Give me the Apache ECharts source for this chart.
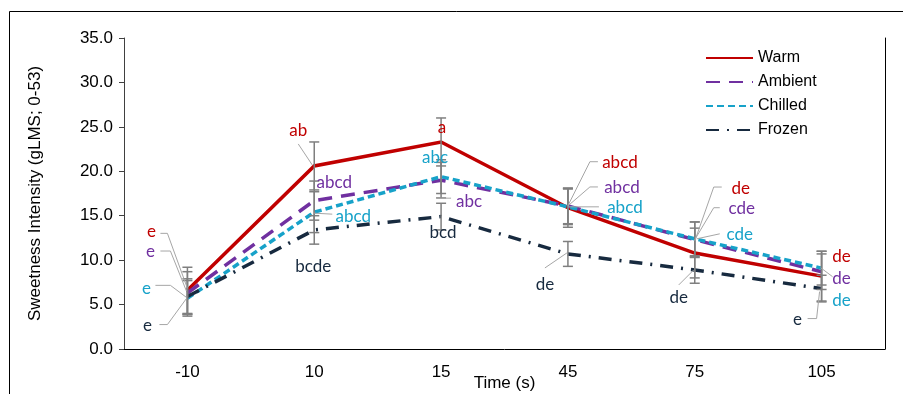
<!DOCTYPE html>
<html><head><meta charset="utf-8">
<script src="https://cdn.jsdelivr.net/npm/echarts@6/dist/echarts.min.js"></script>
<style>html,body{margin:0;padding:0;background:#fff}#c{width:903px;height:394px}</style>
</head><body><div id="c"></div>
<script>
// ---- data ----
const categories = ['-10', '10', '15', '45', '75', '105'];
const seriesNames = ['Warm', 'Ambient', 'Chilled', 'Frozen'];
const warm    = [6.6, 20.6, 23.3, 15.9, 10.8, 8.2];
const ambient = [6.3, 16.7, 19.0, 16.1, 12.3, 8.7];
const chilled = [5.7, 15.4, 19.4, 16.0, 12.4, 9.1];
const frozen  = [5.9, 13.4, 14.9, 10.7, 8.9, 6.8];
const warmErr    = [2.6, 2.7, 2.7, 2.2, 2.8, 2.8];
const ambientErr = [2.4, 2.2, 2.0, 2.0, 2.0, 2.0];
const chilledErr = [2.0, 2.3, 1.9, 2.0, 1.9, 1.9];
const frozenErr  = [2.0, 1.6, 1.5, 1.4, 1.5, 1.5];
const warmLetters    = ['e', 'ab', 'a', 'abcd', 'de', 'de'];
const ambientLetters = ['e', 'abcd', 'abc', 'abcd', 'cde', 'de'];
const chilledLetters = ['e', 'abcd', 'abc', 'abcd', 'cde', 'de'];
const frozenLetters  = ['e', 'bcde', 'bcd', 'de', 'de', 'e'];
const yMin = 0, yMax = 35, yStep = 5;

// ---- styling / layout (pixel offsets of letter labels relative to their point) ----
const colors = { Warm: '#C00000', Ambient: '#7030A0', Chilled: '#17A2C9', Frozen: '#172A3F' };
const warmLayout = [
  { d: [-36, -59], lead: [[-27, -57], [-20, -57], [0, -2]] },
  { d: [-16, -35], lead: [[-16, -22], [-2, -1]] },
  { d: [1, -14] },
  { d: [52, -45], lead: [[30, -46], [22, -46], [0, -2]] },
  { d: [46, -65], lead: [[27, -66], [19, -66], [0, -12]] },
  { d: [20, -20] }
];
const ambientLayout = [
  { d: [-37, -42], lead: [[-27, -42], [-17, -42], [-1, -2]] },
  { d: [20, -18] },
  { d: [28, 21], lead: [[10, 18], [-4, 18]] },
  { d: [54, -18], lead: [[30, -19], [22, -19], [0, 0]] },
  { d: [47, -31], lead: [[25, -32], [19, -32], [0, 0]] },
  { d: [20, 7], lead: [[-1, -4], [11, 5]] }
];
const chilledLayout = [
  { d: [-41, -10], lead: [[-32, -13], [-17, -13], [-1, -1]] },
  { d: [39, 4], lead: [[18, 2], [0, 1]] },
  { d: [-6, -19] },
  { d: [57, 1], lead: [[31, 0], [0, 0]] },
  { d: [45, -4], lead: [[25, -5], [2, 0]] },
  { d: [20, 32] }
];
const frozenLayout = [
  { d: [-40, 29], lead: [[-28, 28], [-20, 28], [-1, 2]] },
  { d: [-1, 37] },
  { d: [2, 16] },
  { d: [-23, 31], lead: [[-23, 14], [-1, -1]] },
  { d: [-16, 28], lead: [[-16, 15], [-1, 0]] },
  { d: [-24, 31], lead: [[-14, 30], [-5, 30], [-2, 3]] }
];

const lineStyles = {
  Warm:    { width: 3.5, type: 'solid' },
  Ambient: { width: 3.5, type: [14, 9] },
  Chilled: { width: 3.5, type: [7, 4] },
  Frozen:  { width: 3.5, type: [13, 8, 2, 8] }
};

const values = { Warm: warm, Ambient: ambient, Chilled: chilled, Frozen: frozen };
const errs = { Warm: warmErr, Ambient: ambientErr, Chilled: chilledErr, Frozen: frozenErr };
const letters = { Warm: warmLetters, Ambient: ambientLetters, Chilled: chilledLetters, Frozen: frozenLetters };
const layouts = { Warm: warmLayout, Ambient: ambientLayout, Chilled: chilledLayout, Frozen: frozenLayout };

const series = [];
seriesNames.forEach(function (n) {
  series.push({
    name: n, type: 'line', data: values[n], symbol: 'none', showSymbol: false, z: 2,
    lineStyle: Object.assign({ color: colors[n], cap: 'butt', join: 'miter' }, lineStyles[n]),
    itemStyle: { color: colors[n] }
  });
});
seriesNames.forEach(function (n) {
  series.push({
    name: n + ' err', type: 'custom', silent: true, z: 3, clip: false,
    data: values[n].map(function (v, i) { return [i, v, errs[n][i]]; }),
    renderItem: function (params, api) {
      const x = api.value(0), v = api.value(1), e = api.value(2);
      const top = api.coord([x, v + e]);
      const bot = api.coord([x, v - e]);
      const hw = 5;
      const st = { stroke: '#7f7f7f', lineWidth: 1.5 };
      return { type: 'group', children: [
        { type: 'line', shape: { x1: top[0], y1: top[1], x2: bot[0], y2: bot[1] }, style: st },
        { type: 'line', shape: { x1: top[0] - hw, y1: top[1], x2: top[0] + hw, y2: top[1] }, style: st },
        { type: 'line', shape: { x1: bot[0] - hw, y1: bot[1], x2: bot[0] + hw, y2: bot[1] }, style: st }
      ] };
    }
  });
});
seriesNames.forEach(function (n) {
  series.push({
    name: n + ' letters', type: 'custom', silent: true, z: 5, clip: false,
    data: values[n].map(function (v, i) { return [i, v]; }),
    renderItem: function (params, api) {
      const i = params.dataIndex;
      const p = api.coord([api.value(0), api.value(1)]);
      const L = layouts[n][i];
      const children = [];
      if (L.lead) {
        children.push({ type: 'polyline',
          shape: { points: L.lead.map(function (q) { return [p[0] + q[0], p[1] + q[1]]; }) },
          style: { stroke: '#a6a6a6', lineWidth: 1, fill: null } });
      }
      children.push({ type: 'text', x: p[0] + L.d[0], y: p[1] + L.d[1],
        style: { text: letters[n][i], fill: colors[n], font: '17px Lato',
          align: 'center', verticalAlign: 'middle', textAlign: 'center', textVerticalAlign: 'middle' } });
      return { type: 'group', children: children };
    }
  });
});

const chart = echarts.init(document.getElementById('c'), null, { renderer: 'canvas' });
chart.setOption({
  animation: false,
  backgroundColor: '#ffffff',
  grid: { left: 124, right: 18, top: 38, bottom: 45, containLabel: false, outerBoundsMode: 'none' },
  legend: {
    data: seriesNames, orient: 'vertical', left: 700, top: 45,
    itemWidth: 47, itemHeight: 14, itemGap: 8,
    itemStyle: { opacity: 0 },
    textStyle: { fontFamily: 'Liberation Sans', fontSize: 16, color: '#000' }
  },
  xAxis: {
    type: 'category', data: categories, boundaryGap: true,
    axisLine: { show: true, lineStyle: { color: '#000', width: 1 } },
    axisTick: { show: false },
    axisLabel: { fontFamily: 'Liberation Sans', fontSize: 17, color: '#000', margin: 15 },
    name: 'Time (s)', nameLocation: 'middle', nameGap: 26, nameMoveOverlap: false,
    nameTextStyle: { fontFamily: 'Liberation Sans', fontSize: 17, color: '#000' }
  },
  yAxis: [{
    type: 'value', min: yMin, max: yMax, interval: yStep,
    axisLine: { show: true, lineStyle: { color: '#404040', width: 1 } },
    axisTick: { show: true, inside: false, length: 5, lineStyle: { color: '#404040' } },
    splitLine: { show: false },
    axisLabel: { fontFamily: 'Liberation Sans', fontSize: 17, color: '#000', margin: 11,
      formatter: function (v) { return v.toFixed(1); } },
    name: 'Sweetness Intensity (gLMS; 0-53)', nameLocation: 'middle', nameGap: 80, nameMoveOverlap: false,
    nameTextStyle: { fontFamily: 'Liberation Sans', fontSize: 17, color: '#000' }
  }, {
    type: 'value', min: yMin, max: yMax, interval: yStep, position: 'right',
    axisLine: { show: true, lineStyle: { color: '#000', width: 1 } },
    axisTick: { show: false }, axisLabel: { show: false }, splitLine: { show: false }
  }],
  graphic: [{
    type: 'polyline', silent: true,
    shape: { points: [[9.5, 394], [9.5, 11.5], [903, 11.5]] },
    style: { stroke: '#000', lineWidth: 1, fill: null }
  }],
  series: series
});
</script>
</body></html>
